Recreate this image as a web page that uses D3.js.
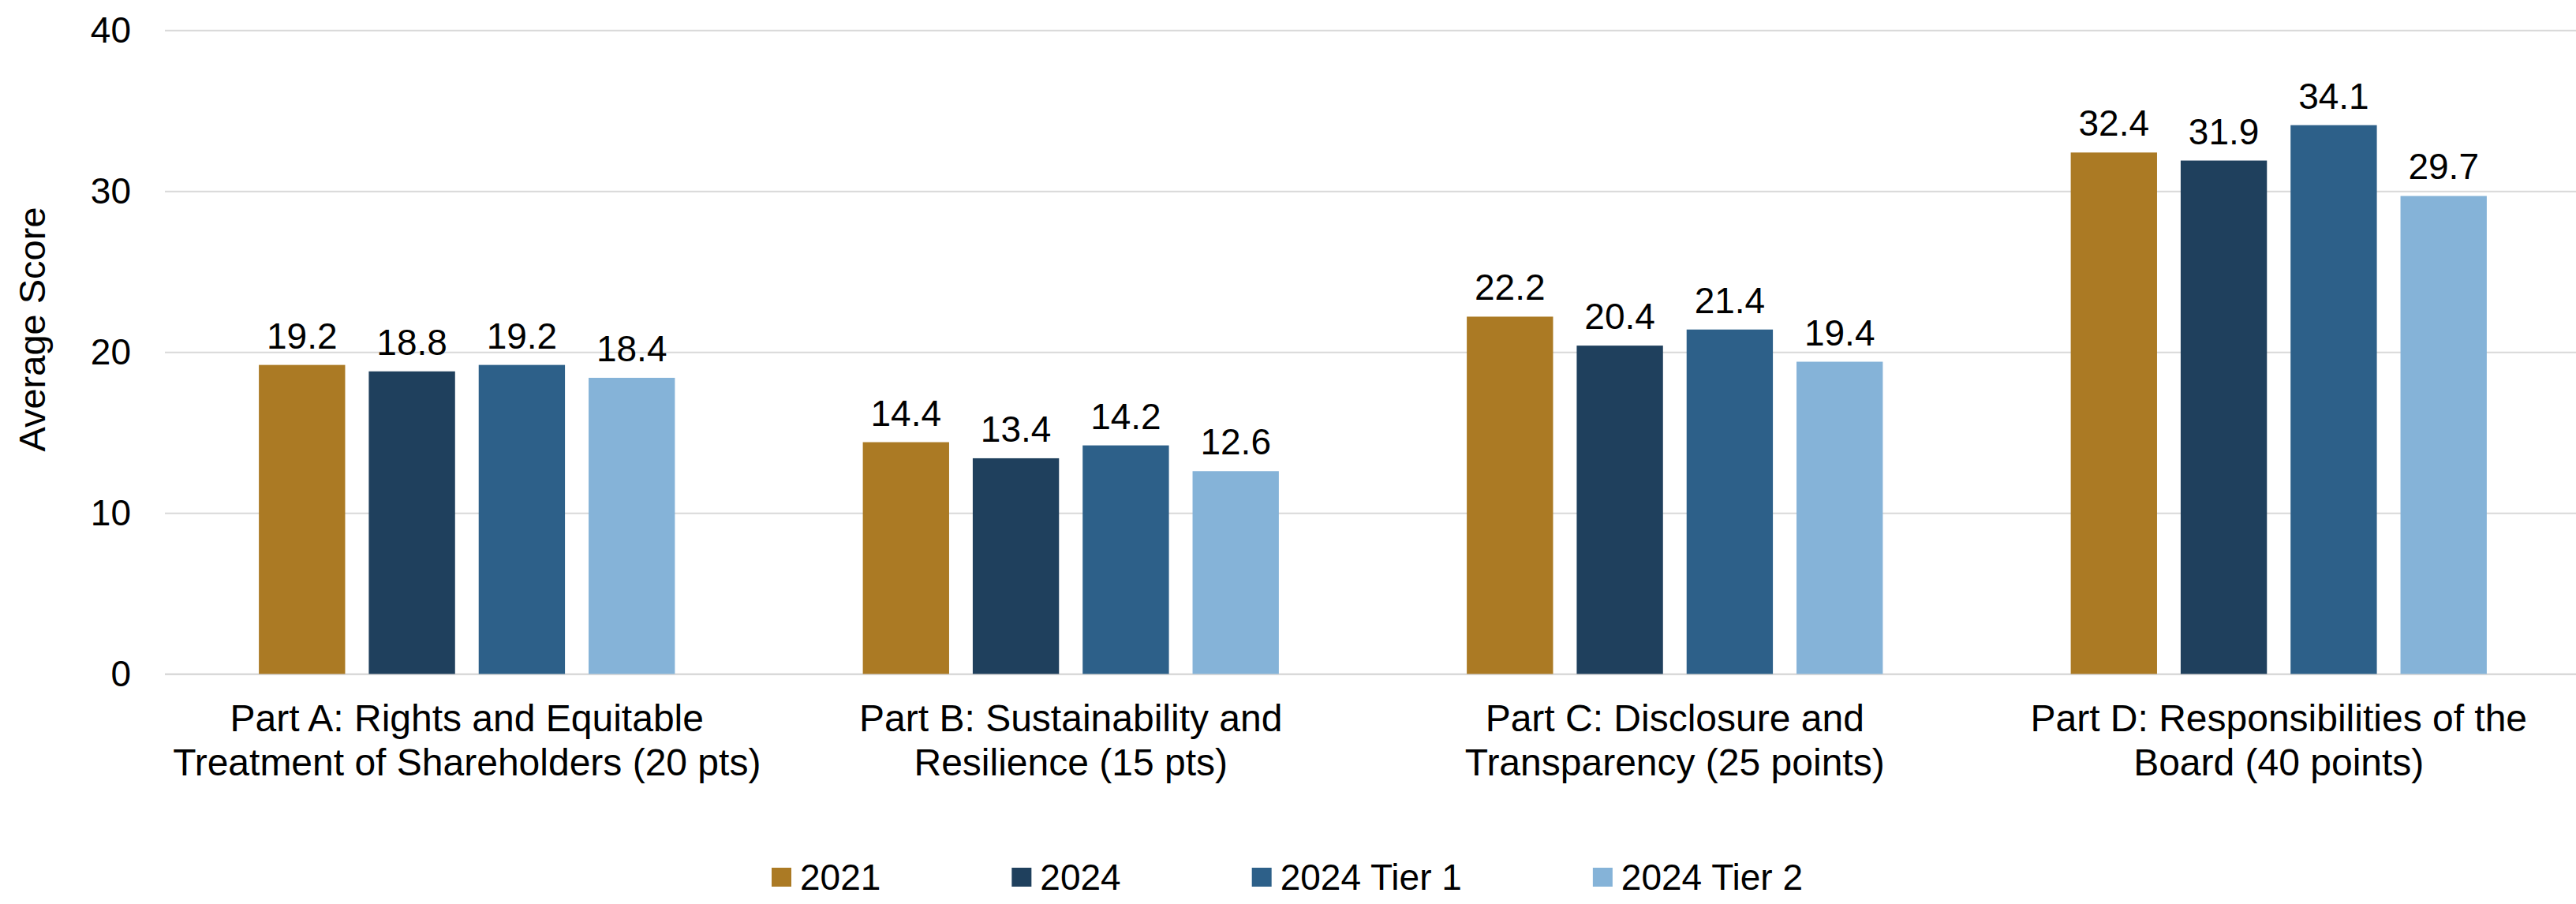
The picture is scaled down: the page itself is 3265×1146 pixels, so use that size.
<!DOCTYPE html>
<html>
<head>
<meta charset="utf-8">
<script src="https://cdn.jsdelivr.net/npm/d3@7"></script>
<style>
  html, body { margin: 0; padding: 0; background: #ffffff; }
  svg { display: block; }
  text { font-family: "Liberation Sans", Arial, Helvetica, sans-serif; fill: #000000; }
</style>
</head>
<body>
<svg id="chart" width="3265" height="1146"></svg>
<script>
// Scorecard parts (category axis), each label split over two lines
const categories = ["Part A", "Part B", "Part C", "Part D"];
const categoryLines = [
  ["Part A: Rights and Equitable", "Treatment of Shareholders (20 pts)"],
  ["Part B: Sustainability and", "Resilience (15 pts)"],
  ["Part C: Disclosure and", "Transparency (25 points)"],
  ["Part D: Responsibilities of the", "Board (40 points)"]
];

// Series
const seriesNames = ["2021", "2024", "2024 Tier 1", "2024 Tier 2"];
const values2021 = [19.2, 14.4, 22.2, 32.4];
const values2024 = [18.8, 13.4, 20.4, 31.9];
const values2024Tier1 = [19.2, 14.2, 21.4, 34.1];
const values2024Tier2 = [18.4, 12.6, 19.4, 29.7];
const seriesColors = ["#ab7a24", "#1f405d", "#2d6089", "#85b3d8"];

// Value axis
const yTicks = [0, 10, 20, 30, 40];
const yTitle = "Average Score";

const seriesValues = [values2021, values2024, values2024Tier1, values2024Tier2];
const rows = [];
categories.forEach((c, ci) => {
  seriesNames.forEach((s, si) => rows.push({ category: c, series: s, value: seriesValues[si][ci] }));
});

const svg = d3.select("#chart");
const plotLeft = 209, plotRight = 3271, plotTop = 38.3, plotBottom = 854.3;

const y = d3.scaleLinear().domain([0, 40]).range([plotBottom, plotTop]);
const x0 = d3.scaleBand().domain(categories).range([plotLeft, plotRight]);
const x1 = d3.scaleBand().domain(seriesNames).range([0, x0.bandwidth()])
  .paddingInner(0.215).paddingOuter(0.855);
const color = d3.scaleOrdinal().domain(seriesNames).range(seriesColors);

// Gridlines and tick labels
const yAxis = svg.append("g")
  .attr("transform", `translate(${plotLeft},0)`)
  .call(d3.axisLeft(y).tickValues(yTicks).tickSize(-(plotRight - plotLeft)).tickPadding(43));
yAxis.select(".domain").remove();
yAxis.selectAll(".tick line")
  .attr("stroke", "#d9d9d9")
  .attr("stroke-width", d => d === 0 ? 2.6 : 2);
yAxis.selectAll(".tick text")
  .attr("font-size", 46)
  .attr("fill", "#000")
  .style("font-family", '"Liberation Sans", Arial, sans-serif');

// Axis title
svg.append("text")
  .attr("transform", "translate(57,417.5) rotate(-90)")
  .attr("text-anchor", "middle")
  .attr("font-size", 47)
  .text(yTitle);

// Bars
const bars = svg.append("g");
bars.selectAll("rect")
  .data(rows)
  .join("rect")
  .attr("x", d => x0(d.category) + x1(d.series))
  .attr("y", d => y(d.value))
  .attr("width", x1.bandwidth())
  .attr("height", d => y(0) - y(d.value))
  .attr("fill", d => color(d.series));

// Value labels
bars.selectAll("text")
  .data(rows)
  .join("text")
  .attr("x", d => x0(d.category) + x1(d.series) + x1.bandwidth() / 2)
  .attr("y", d => y(d.value) - 21)
  .attr("text-anchor", "middle")
  .attr("font-size", 46)
  .text(d => d3.format(".1f")(d.value));

// Category labels
const xl = svg.append("g");
categories.forEach((c, ci) => {
  const t = xl.append("text")
    .attr("text-anchor", "middle")
    .attr("font-size", 48);
  categoryLines[ci].forEach((line, li) => {
    t.append("tspan")
      .attr("x", x0(c) + x0.bandwidth() / 2)
      .attr("y", 927 + li * 56)
      .text(line);
  });
});

// Legend
const legend = svg.append("g");
let lx = 978;
seriesNames.forEach(s => {
  legend.append("rect")
    .attr("x", lx).attr("y", 1100)
    .attr("width", 25).attr("height", 24)
    .attr("fill", color(s));
  const t = legend.append("text")
    .attr("x", lx + 36).attr("y", 1127.7)
    .attr("font-size", 46)
    .text(s);
  lx += 36 + t.node().getComputedTextLength() + 166;
});
</script>
</body>
</html>
